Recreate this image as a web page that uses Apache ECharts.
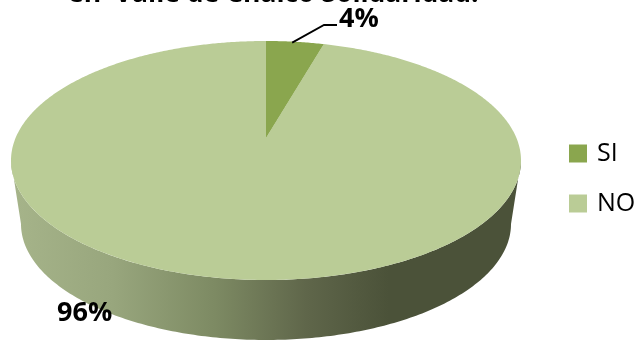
<!DOCTYPE html>
<html>
<head>
<meta charset="utf-8">
<style>html,body{margin:0;padding:0;background:#fff;overflow:hidden}#c{width:636px;height:341px}</style>
<script src="https://cdn.jsdelivr.net/npm/echarts@6/dist/echarts.min.js"></script>
</head>
<body>
<div id="c"></div>
<script>
var categories = ['SI', 'NO'];
var siValues = [4.4];
var noValues = [95.6];
var titleText = 'en  Valle de Chalco Solidaridad.';
var colors = ['#8aa64e', '#bacc96'];
var total = siValues[0] + noValues[0];

var TOP = {cx: 266, cy: 160.5, rx: 255, ry: 119.5};
var BOTTOM = {cx: 266, cy: 224, rx: 245, ry: 116};
var TILT = 0.188;

function project(frac) {
  var t = frac * 2 * Math.PI;
  var u = Math.sin(t), v = Math.cos(t), d = 1 + TILT * v;
  var up = u * Math.sqrt(1 - TILT * TILT) / d, w = (v + TILT) / d;
  return [TOP.cx + TOP.rx * up, TOP.cy - TOP.ry * w];
}
var apex = [TOP.cx, TOP.cy - TOP.ry * TILT];

function sector(f0, f1) {
  var pts = [apex], n = Math.max(6, Math.ceil((f1 - f0) * 720));
  for (var i = 0; i <= n; i++) pts.push(project(f0 + (f1 - f0) * i / n));
  return pts;
}
function sidePoints() {
  var pts = [], i, n = 200, a;
  for (i = 0; i <= n; i++) { a = Math.PI * i / n; pts.push([TOP.cx - TOP.rx * Math.cos(a), TOP.cy + TOP.ry * Math.sin(a)]); }
  for (i = n; i >= 0; i--) { a = Math.PI * i / n; pts.push([BOTTOM.cx - BOTTOM.rx * Math.cos(a), BOTTOM.cy + BOTTOM.ry * Math.sin(a)]); }
  return pts;
}
var labelFont = 'bold 27px "Open Sans","Noto Sans",sans-serif';

function renderSI(params, api) {
  var f = api.value(0) / total;
  var mid = project(f * 0.45);
  return {type: 'group', children: [
    {type: 'polygon', shape: {points: sector(0, f)}, style: {fill: colors[0]}},
    {type: 'polyline', shape: {points: [[mid[0], mid[1] + 1], [324, 25], [337, 25]]}, style: {stroke: '#000', lineWidth: 1.8, fill: null}},
    {type: 'text', style: {text: Math.round(api.value(0)) + '%', x: 339, y: 6, font: labelFont, fill: '#000'}}
  ]};
}
function renderNO(params, api) {
  var f = api.value(0) / total;
  return {type: 'group', children: [
    {type: 'polygon', shape: {points: sidePoints()}, style: {fill: new echarts.graphic.LinearGradient(11, 0, 521, 0, [
      {offset: 0, color: '#a6b48a'},
      {offset: 0.2, color: '#98a67d'},
      {offset: 0.4, color: '#7d8a63'},
      {offset: 0.58, color: '#5f664a'},
      {offset: 0.74, color: '#4b5239'},
      {offset: 1, color: '#4b5239'}
    ], true)}},
    {type: 'polygon', shape: {points: sector(1 - f, 1)}, style: {fill: colors[1]}},
    {type: 'text', style: {text: Math.round(api.value(0)) + '%', x: 57, y: 300, font: labelFont, fill: '#000'}}
  ]};
}

var chart = echarts.init(document.getElementById('c'), null, {renderer: 'canvas'});
chart.setOption({
  animation: false,
  backgroundColor: '#fff',
  title: {text: titleText, left: 63, top: -24, textStyle: {fontFamily: 'Open Sans', fontWeight: 'bold', fontSize: 26.5, color: '#000'}},
  legend: {
    data: categories, orient: 'vertical', left: 569, top: 141, padding: 0, itemWidth: 18, itemHeight: 18, itemGap: 25,
    icon: 'rect', textStyle: {fontFamily: 'Open Sans', fontSize: 25, color: '#000', padding: [0, 0, 0, 5]}
  },
  series: [
    {type: 'custom', name: categories[1], coordinateSystem: 'none', renderItem: renderNO, data: [noValues], itemStyle: {color: colors[1]}, z: 1},
    {type: 'custom', name: categories[0], coordinateSystem: 'none', renderItem: renderSI, data: [siValues], itemStyle: {color: colors[0]}, z: 2}
  ]
});
</script>
</body>
</html>
